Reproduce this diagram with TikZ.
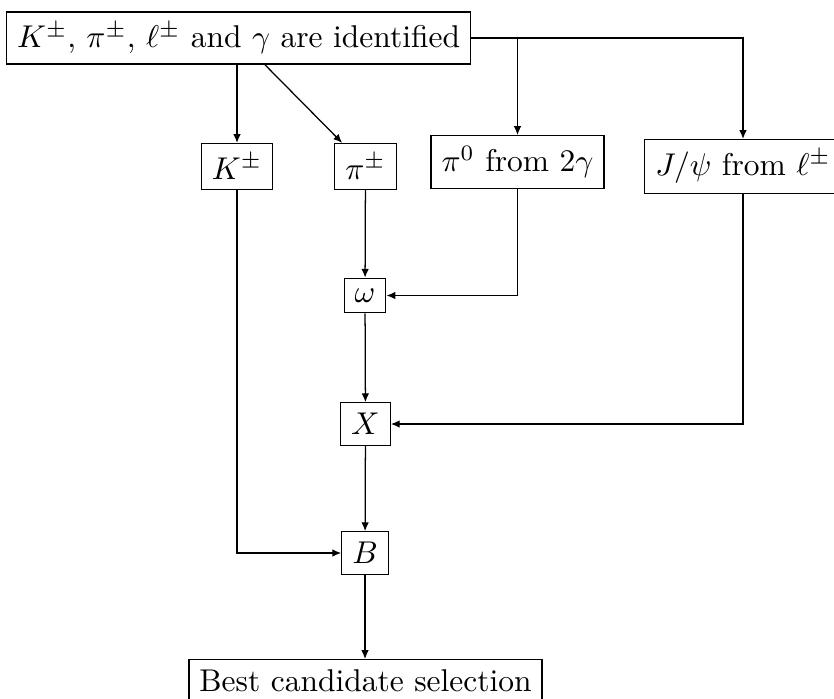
\documentclass[tikz,border=0pt]{standalone}
\usetikzlibrary{arrows.meta}
\begin{document}
\begin{tikzpicture}[x=0.3177pt,y=-0.3177pt,
  box/.style={draw, line width=0.4pt, inner sep=3.33pt},
  conn/.style={line width=0.4pt, -{Latex[length=2.8pt,width=2.4pt]}}]
\useasboundingbox (0,0) rectangle (834,698);
\node[box] (top) at (238.5,38) {$K^\pm$, $\pi^\pm$, $\ell^\pm$ and $\gamma$ are identified};
\node[box] (K) at (237,166.5) {$K^\pm$};
\node[box] (pi) at (365.5,166.5) {$\pi^\pm$};
\node[box] (pi0) at (517.5,162) {$\pi^0$ from $2\gamma$};
\node[box] (jpsi) at (743,166.5) {$J/\psi$ from $\ell^\pm$};
\node[box] (omega) at (365,295.5) {$\omega$};
\node[box] (X) at (365.5,424) {$X$};
\node[box] (B) at (365,553) {$B$};
\node[box, anchor=north] (best) at (365.5,659) {Best candidate selection};
\draw[conn] (top.south -| K.north) -- (K.north);
\draw[conn] (top) -- (pi);
\draw[conn] (top.east) -| (pi0.north);
\draw[conn] (top.east) -| (jpsi.north);
\draw[conn] (pi) -- (omega);
\draw[conn] (pi0.south) |- (omega.east);
\draw[conn] (omega) -- (X);
\draw[conn] (jpsi.south) |- (X.east);
\draw[conn] (X) -- (B);
\draw[conn] (K.south) |- (B.west);
\draw[conn] (B.south) -- (best.north -| B.south);
\end{tikzpicture}
\end{document}
